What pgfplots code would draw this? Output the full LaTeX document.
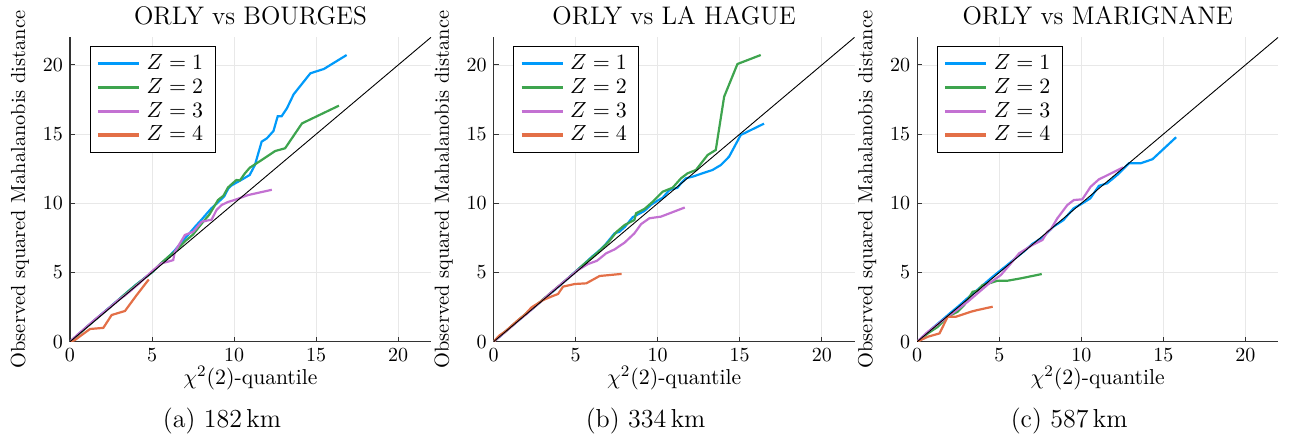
\documentclass[border=0pt]{standalone}
\usepackage{pgfplots}
\pgfplotsset{compat=1.18}
\definecolor{zblue}{HTML}{009AFA}
\definecolor{zgreen}{HTML}{3EA44E}
\definecolor{zpurple}{HTML}{C371D2}
\definecolor{zorange}{HTML}{E36F47}

\pgfplotsset{
  panel/.style={
    width=180.5pt, height=152.2pt, scale only axis,
    xmin=0, xmax=22, ymin=0, ymax=22,
    xtick={0,5,10,15,20}, ytick={0,5,10,15,20},
    axis lines=left,
    axis line style={-, draw=black!80, line width=0.6pt},
    tick align=inside, major tick length=2.5pt,
    tick style={black!80, line width=0.5pt},
    grid=major, grid style={black!9, line width=0.4pt},
    ticklabel style={font=\fontsize{10.3}{12}\selectfont},
    xlabel={$\chi^2(2)$-quantile},
    ylabel={Observed squared Mahalanobis distance},
    xlabel style={font=\fontsize{10.8}{12}\selectfont, yshift=4.5pt},
    ylabel style={font=\fontsize{10.2}{12}\selectfont},
    title style={font=\fontsize{12.7}{14}\selectfont, yshift=-3.5pt},
    legend style={at={(0.055,0.972)}, anchor=north west, draw=black,
      line width=0.5pt, font=\fontsize{11}{12}\selectfont,
      inner xsep=3pt, inner ysep=3.5pt, row sep=1.7pt,
      nodes={text height=7.6pt, text depth=1.6pt, inner ysep=0.5pt, inner xsep=3pt},
      cells={anchor=west}},
    legend image code/.code={\draw[#1, line width=1.6pt] (0pt,0pt) -- (20.5pt,0pt);},
    every axis plot/.append style={line width=1.1pt},
  }
}

\begin{document}
\begin{tikzpicture}
% (a)
\begin{axis}[panel, at={(0pt,0pt)}, anchor=south west, title={ORLY vs BOURGES}]
\addplot[zblue] coordinates {(0,0) (0.5,0.52) (1,1.05) (1.5,1.56) (2,2.07) (2.5,2.57) (3,3.08) (3.5,3.6) (4,4.1) (4.5,4.56) (5,5.02) (5.5,5.6) (6,6.12) (6.4,6.62) (6.8,7.2) (7.2,7.72) (7.6,8.28) (8,8.8) (8.6,9.62) (9,10.05) (9.4,10.5) (9.65,11.08) (9.85,11.3) (10.45,11.7) (10.95,12.05) (11.27,12.77) (11.68,14.46) (12.0,14.7) (12.4,15.23) (12.66,16.3) (12.9,16.3) (13.22,16.87) (13.63,17.88) (14.65,19.4) (15.47,19.71) (16.86,20.72)};
\addplot[zgreen] coordinates {(0,0) (0.5,0.5) (1,1.04) (1.5,1.55) (2,2.05) (2.5,2.55) (3,3.07) (3.5,3.58) (4,4.08) (4.5,4.55) (5,5.02) (5.5,5.62) (6,6.15) (6.5,6.62) (7,7.25) (7.5,7.75) (8,8.5) (8.5,9.2) (9.02,10.24) (9.35,10.55) (9.63,11.15) (10.14,11.69) (10.35,11.65) (10.66,12.17) (10.96,12.58) (11.68,13.13) (12.5,13.78) (13.11,13.98) (14.14,15.78) (16.39,17.06)};
\addplot[zpurple] coordinates {(0,0) (0.5,0.55) (1,1.06) (1.52,1.6) (2,2.06) (2.5,2.55) (2.94,3.0) (3.3,3.3) (3.66,3.65) (4.2,4.2) (4.97,5.06) (5.58,5.67) (5.99,5.79) (6.29,5.9) (6.39,6.5) (7.0,7.71) (7.51,7.95) (8.02,8.67) (8.63,8.82) (8.93,9.52) (9.24,9.88) (9.63,10.1) (10.05,10.25) (10.86,10.6) (12.3,10.98)};
\addplot[zorange] coordinates {(0,0) (0.3,0.12) (0.71,0.48) (1.22,0.92) (2.03,1.0) (2.54,1.93) (3.35,2.22) (4.05,3.35) (4.8,4.5)};
\addplot[black, line width=0.45pt, forget plot] coordinates {(0,0) (22,22)};
\legend{$Z = 1$, $Z = 2$, $Z = 3$, $Z = 4$}
\end{axis}
% (b)
\begin{axis}[panel, at={(211.8pt,0pt)}, anchor=south west, title={ORLY vs LA HAGUE}]
\addplot[zblue] coordinates {(0,0) (0.5,0.5) (1,1.02) (1.5,1.52) (2,2.02) (2.5,2.52) (3,3.02) (3.5,3.52) (4,4.02) (4.5,4.55) (5,5.08) (5.5,5.6) (6,6.15) (6.36,6.5) (6.8,7.0) (7.37,7.83) (7.67,7.95) (8.0,8.3) (8.48,9.0) (9.19,9.45) (9.6,9.9) (10.0,10.2) (10.3,10.4) (10.71,10.96) (11.21,11.13) (11.42,11.45) (11.72,11.81) (12.13,11.93) (12.73,12.17) (13.34,12.41) (13.85,12.77) (14.35,13.37) (15.06,14.94) (16.48,15.76)};
\addplot[zgreen] coordinates {(0,0) (0.5,0.52) (1,1.02) (1.5,1.55) (2,2.05) (2.5,2.52) (3,3.05) (3.5,3.55) (4,4.05) (4.5,4.55) (5,5.06) (5.5,5.6) (6,6.1) (6.5,6.62) (7,7.2) (7.5,7.95) (7.98,8.43) (8.58,8.8) (8.68,9.28) (9.2,9.6) (9.7,10.12) (10.3,10.84) (10.91,11.13) (11.42,11.81) (11.82,12.17) (12.33,12.41) (13.04,13.49) (13.54,13.86) (14.05,17.71) (14.86,20.07) (16.28,20.72)};
\addplot[zpurple] coordinates {(0,0) (0.5,0.5) (1,1.0) (1.5,1.52) (2,2.0) (2.5,2.52) (3,3.02) (3.5,3.55) (4,4.05) (4.5,4.55) (5.14,5.18) (5.75,5.61) (6.3,5.85) (6.56,6.1) (6.86,6.39) (7.37,6.67) (7.98,7.16) (8.58,7.83) (8.99,8.5) (9.49,8.92) (10.2,9.04) (11.65,9.7)};
\addplot[zorange] coordinates {(0,0) (0.35,0.45) (0.69,0.72) (1.5,1.57) (1.9,1.95) (2.31,2.48) (3.02,3.01) (3.6,3.3) (3.93,3.45) (4.23,3.98) (4.94,4.17) (5.65,4.22) (6.46,4.75) (7.8,4.9)};
\addplot[black, line width=0.45pt, forget plot] coordinates {(0,0) (22,22)};
\legend{$Z = 1$, $Z = 2$, $Z = 3$, $Z = 4$}
\end{axis}
% (c)
\begin{axis}[panel, at={(423.6pt,0pt)}, anchor=south west, title={ORLY vs MARIGNANE}]
\addplot[zblue] coordinates {(0,0) (0.5,0.52) (1,1.05) (1.5,1.55) (2,2.06) (2.5,2.55) (3,3.08) (3.5,3.58) (4,4.08) (4.5,4.6) (5,5.08) (5.5,5.55) (6,6.05) (6.5,6.52) (7,7.05) (7.68,7.58) (8.3,8.31) (8.91,8.79) (9.53,9.64) (10,9.95) (10.55,10.36) (11.07,11.26) (11.58,11.45) (12.19,12.05) (12.91,12.9) (13.63,12.9) (14.34,13.19) (15.78,14.78)};
\addplot[zgreen] coordinates {(0,0) (0.65,0.6) (1.26,1.08) (1.86,1.81) (2.47,2.17) (2.87,2.65) (3.38,3.61) (3.68,3.69) (3.99,4.1) (4.39,4.22) (4.9,4.41) (5.51,4.41) (6.32,4.58) (7.59,4.89)};
\addplot[zpurple] coordinates {(0,0) (0.65,0.72) (1.46,1.45) (2.27,2.17) (3.08,2.89) (3.79,3.61) (4.39,4.22) (5.1,4.82) (5.71,5.66) (6.21,6.39) (7.02,6.99) (7.63,7.35) (7.94,7.95) (8.14,8.12) (8.54,8.92) (9.15,9.88) (9.55,10.24) (10.06,10.29) (10.57,11.2) (11.07,11.73) (12.55,12.6)};
\addplot[zorange] coordinates {(0,0) (0.65,0.36) (1.36,0.6) (1.86,1.81) (2.37,1.81) (3.28,2.17) (3.68,2.29) (4.6,2.53)};
\addplot[black, line width=0.45pt, forget plot] coordinates {(0,0) (22,22)};
\legend{$Z = 1$, $Z = 2$, $Z = 3$, $Z = 4$}
\end{axis}
% sub-captions
\node[font=\fontsize{13}{15}\selectfont] at (76pt,-39.6pt) {(a) 182\,km};
\node[font=\fontsize{13}{15}\selectfont] at (287.8pt,-39.6pt) {(b) 334\,km};
\node[font=\fontsize{13}{15}\selectfont] at (499.6pt,-39.6pt) {(c) 587\,km};
\pgfresetboundingbox
\path[use as bounding box] (-35pt,-47.15pt) rectangle (610pt,170.85pt);
\end{tikzpicture}
\end{document}
